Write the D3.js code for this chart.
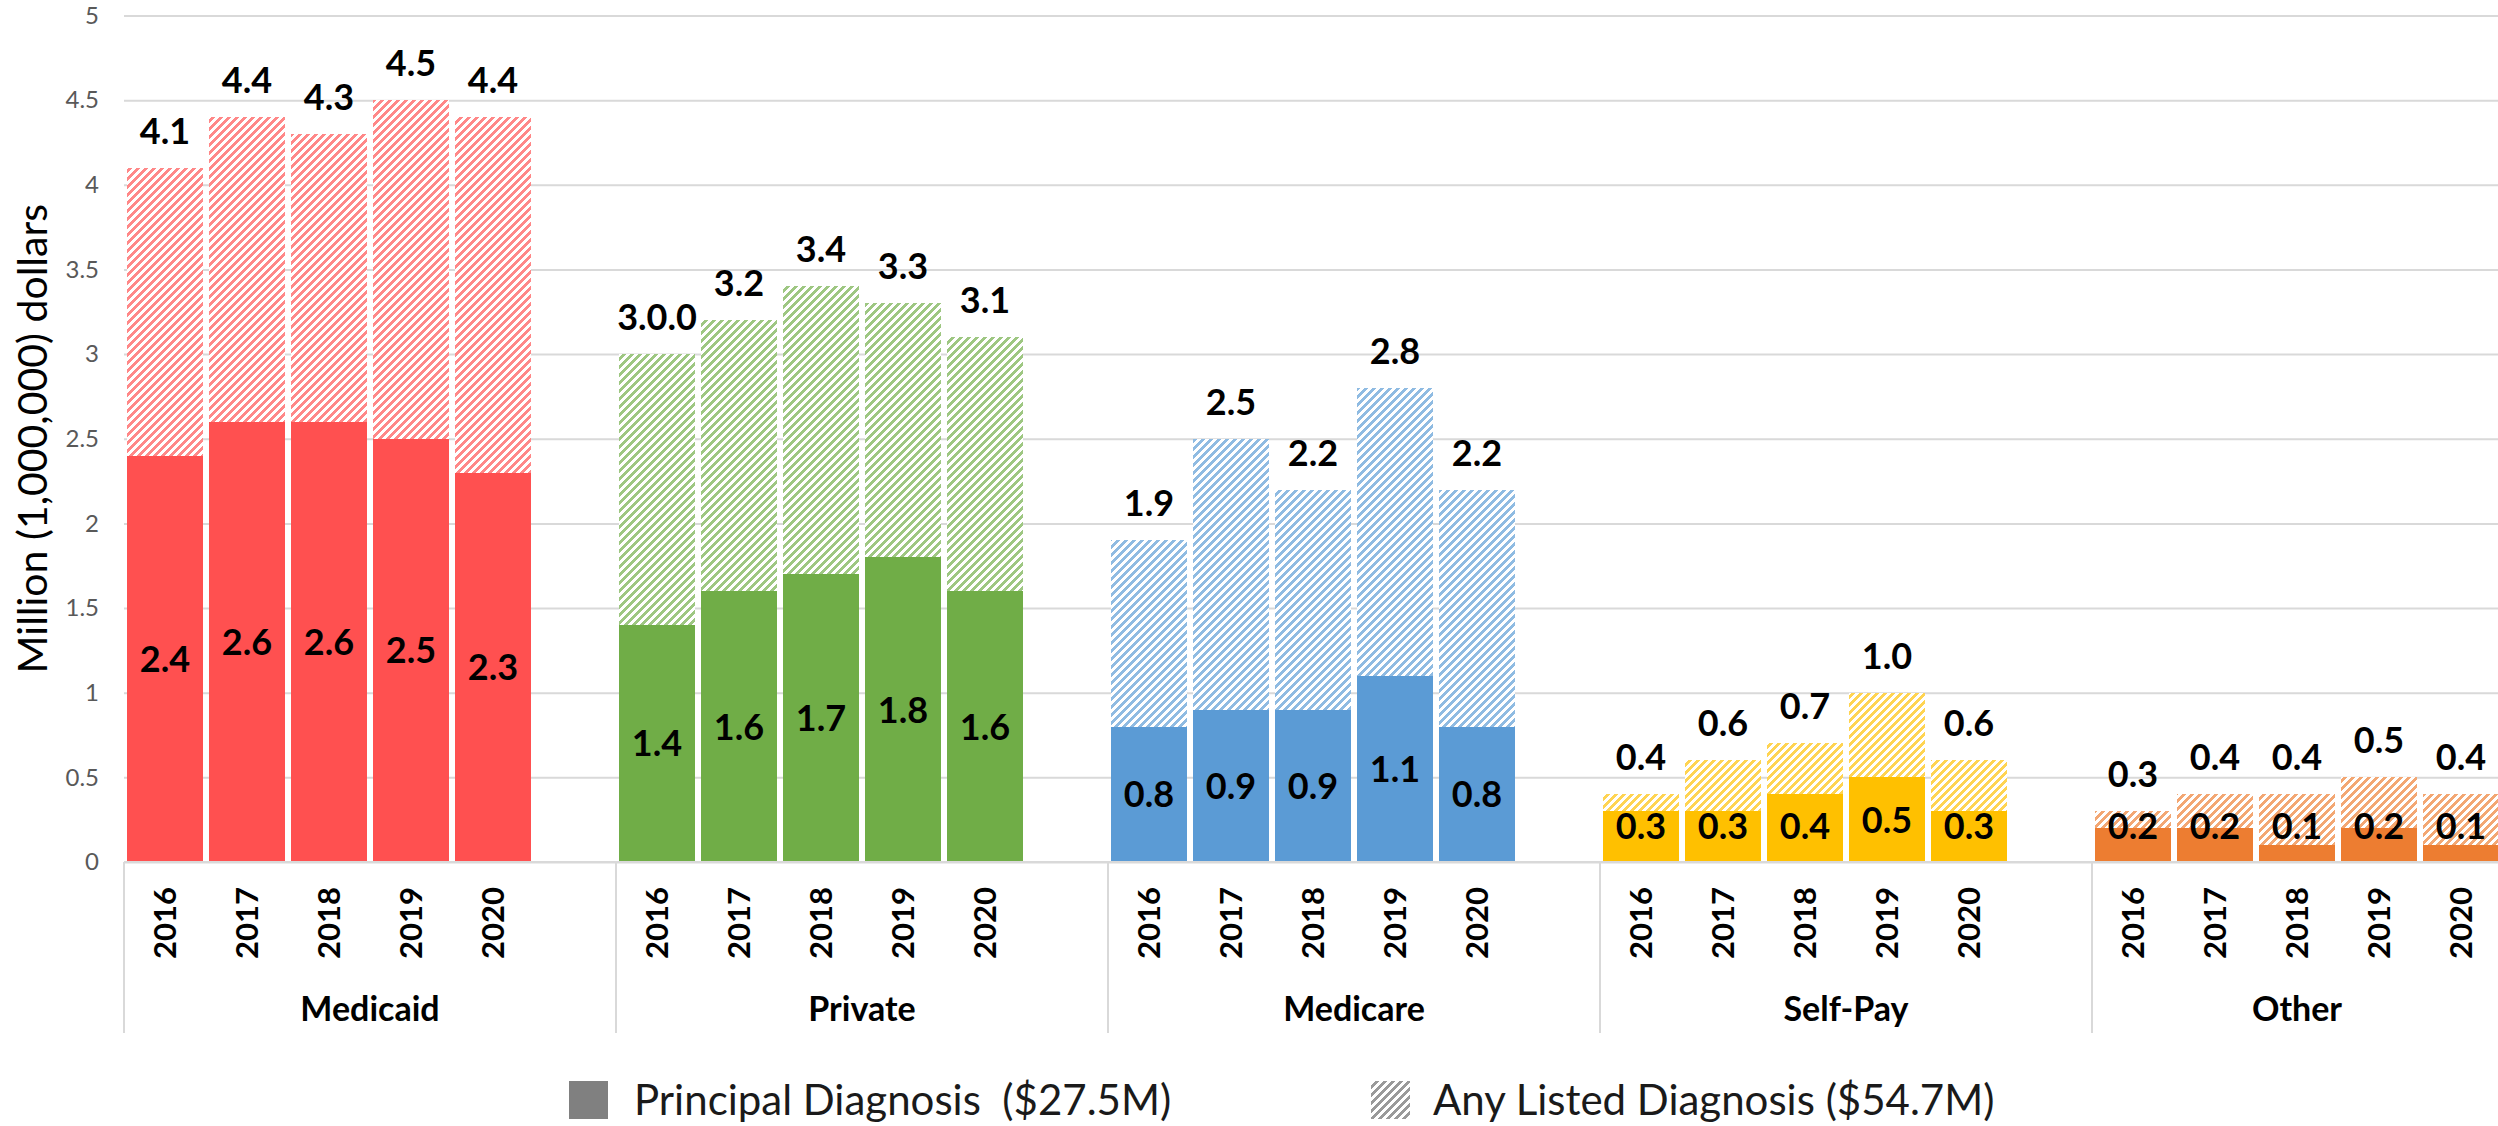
<!DOCTYPE html>
<html>
<head>
<meta charset="utf-8">
<script src="https://cdn.jsdelivr.net/npm/d3@7"></script>
<style>
  html, body { margin: 0; padding: 0; background: #ffffff; }
  svg { display: block; font-family: Lato, "Open Sans", "Noto Sans", sans-serif; }
</style>
</head>
<body>
<svg id="chart" width="2498" height="1126"></svg>
<script>
// Payer groups and years along the two-level category axis
const payers = ["Medicaid", "Private", "Medicare", "Self-Pay", "Other"];
const years = ["2016", "2017", "2018", "2019", "2020"];

// Costs in millions of dollars: principal diagnosis vs any listed diagnosis
const medicaidPrincipal = [2.4, 2.6, 2.6, 2.5, 2.3];
const medicaidAnyListed = [4.1, 4.4, 4.3, 4.5, 4.4];
const privatePrincipal  = [1.4, 1.6, 1.7, 1.8, 1.6];
const privateAnyListed  = [3.0, 3.2, 3.4, 3.3, 3.1];
const medicarePrincipal = [0.8, 0.9, 0.9, 1.1, 0.8];
const medicareAnyListed = [1.9, 2.5, 2.2, 2.8, 2.2];
const selfPayPrincipal  = [0.3, 0.3, 0.4, 0.5, 0.3];
const selfPayAnyListed  = [0.4, 0.6, 0.7, 1.0, 0.6];
const otherPrincipal    = [0.2, 0.2, 0.1, 0.2, 0.1];
const otherAnyListed    = [0.3, 0.4, 0.4, 0.5, 0.4];

// Y axis ticks (millions)
const yTicks = [0, 0.5, 1, 1.5, 2, 2.5, 3, 3.5, 4, 4.5, 5];

// Legend entries
const legendLabels = ["Principal Diagnosis  ($27.5M)", "Any Listed Diagnosis ($54.7M)"];

// Data label text as printed on the source table
const totalLabelText = { "Private 2016": "3.0.0" };

const principalByPayer = [medicaidPrincipal, privatePrincipal, medicarePrincipal, selfPayPrincipal, otherPrincipal];
const anyByPayer = [medicaidAnyListed, privateAnyListed, medicareAnyListed, selfPayAnyListed, otherAnyListed];

const solidColor = {
  "Medicaid": "#FF5050",
  "Private": "#70AD47",
  "Medicare": "#5B9BD5",
  "Self-Pay": "#FFC000",
  "Other": "#ED7D31"
};

// Flattened rows
const rows = [];
payers.forEach((p, i) => {
  years.forEach((yr, j) => {
    rows.push({ payer: p, year: yr, key: p + " " + yr,
                principal: principalByPayer[i][j], total: anyByPayer[i][j] });
  });
});

// Category slots: five years per payer, plus an empty slot between payers
const slots = [];
payers.forEach((p, i) => {
  years.forEach(yr => slots.push(p + " " + yr));
  if (i < payers.length - 1) slots.push(p + " gap");
});

const plotLeft = 124, plotRight = 2502, plotTop = 15.5, plotBottom = 862;

const x = d3.scaleBand()
  .domain(slots)
  .range([plotLeft, plotRight])
  .paddingInner(0.08)
  .paddingOuter(0.04);

const y = d3.scaleLinear().domain([0, 5]).range([plotBottom, plotTop]);

const svg = d3.select("#chart");
const defs = svg.append("defs");

// Pixel-aligned upward diagonal hatch: cell (c, r) is striped when (c + r) mod P < W
function addHatch(id, stripe) {
  const P = 8, W = 4;
  const pat = defs.append("pattern")
    .attr("id", id)
    .attr("patternUnits", "userSpaceOnUse")
    .attr("width", P).attr("height", P);
  pat.append("rect").attr("width", P).attr("height", P).attr("fill", "#ffffff");
  const cells = [];
  for (let r = 0; r < P; r++) {
    for (let c = 0; c < P; c++) {
      if ((c + r) % P < W) cells.push([c, r]);
    }
  }
  pat.selectAll("rect.cell")
    .data(cells)
    .join("rect")
    .attr("class", "cell")
    .attr("x", d => d[0]).attr("y", d => d[1])
    .attr("width", 1).attr("height", 1)
    .attr("fill", stripe)
    .attr("shape-rendering", "crispEdges");
}
const hatchId = p => "hatch-" + p.replace(/[^A-Za-z]/g, "");
payers.forEach(p => {
  addHatch(hatchId(p), d3.interpolateRgb(solidColor[p], "#ffffff")(0.32));
});
addHatch("hatch-legend", "#9A9A9A");

// Gridlines and y tick labels
const yAxis = d3.axisLeft(y)
  .tickValues(yTicks)
  .tickSize(-(plotRight - plotLeft))
  .tickPadding(25)
  .tickFormat(d3.format("~g"));

const gy = svg.append("g")
  .attr("transform", `translate(${plotLeft},0)`)
  .call(yAxis);
gy.select(".domain").remove();
gy.selectAll(".tick line").attr("stroke", "#D9D9D9").attr("stroke-width", 2);
gy.selectAll(".tick text")
  .attr("fill", "#595959")
  .style("font-size", "24px")
  .style("font-family", "Lato, sans-serif");

// Y axis title
svg.append("text")
  .attr("transform", `translate(47,${(plotTop + plotBottom) / 2}) rotate(-90)`)
  .attr("text-anchor", "middle")
  .attr("fill", "#000000")
  .style("font-size", "41px")
  .text("Million (1,000,000) dollars");

// Bars: hatched "any listed" behind, solid "principal" in front
const bars = svg.append("g").attr("shape-rendering", "crispEdges");
bars.selectAll("rect.any")
  .data(rows)
  .join("rect")
  .attr("class", "any")
  .attr("x", d => x(d.key))
  .attr("width", x.bandwidth())
  .attr("y", d => y(d.total))
  .attr("height", d => y(0) - y(d.total))
  .attr("fill", d => `url(#${hatchId(d.payer)})`);

bars.selectAll("rect.principal")
  .data(rows)
  .join("rect")
  .attr("class", "principal")
  .attr("x", d => x(d.key))
  .attr("width", x.bandwidth())
  .attr("y", d => y(d.principal))
  .attr("height", d => y(0) - y(d.principal))
  .attr("fill", d => solidColor[d.payer]);

// Category axis baseline
svg.append("line")
  .attr("x1", plotLeft).attr("x2", plotRight)
  .attr("y1", y(0)).attr("y2", y(0))
  .attr("stroke", "#D9D9D9").attr("stroke-width", 2);

const fmt = d3.format(".1f");
const labelSize = 36;

// Total labels above each bar
svg.append("g").selectAll("text")
  .data(rows)
  .join("text")
  .attr("x", d => x(d.key) + x.bandwidth() / 2)
  .attr("y", d => y(d.total) - 24)
  .attr("text-anchor", "middle")
  .attr("fill", "#000000")
  .style("font-size", labelSize + "px")
  .style("font-weight", 700)
  .text(d => totalLabelText[d.key] || fmt(d.total));

// Principal labels centred in the solid segment, kept inside the plot
svg.append("g").selectAll("text")
  .data(rows)
  .join("text")
  .attr("x", d => x(d.key) + x.bandwidth() / 2)
  .attr("y", d => Math.min((y(d.principal) + y(0)) / 2, y(0) - 36) + labelSize * 0.36)
  .attr("text-anchor", "middle")
  .attr("fill", "#000000")
  .style("font-size", labelSize + "px")
  .style("font-weight", 700)
  .text(d => fmt(d.principal));

// Year labels (rotated)
svg.append("g").selectAll("text")
  .data(rows)
  .join("text")
  .attr("transform", d => `translate(${x(d.key) + x.bandwidth() / 2},887) rotate(-90)`)
  .attr("text-anchor", "end")
  .attr("dy", "0.36em")
  .attr("fill", "#000000")
  .style("font-size", "31px")
  .style("font-weight", 700)
  .text(d => d.year);

// Payer group separators and labels
const half = (x.step() - x.bandwidth()) / 2;
const groupSpan = payers.map((p, i) => {
  const start = x(p + " " + years[0]) - half;
  const lastKey = i < payers.length - 1 ? p + " gap" : p + " " + years[years.length - 1];
  const end = x(lastKey) + x.bandwidth() + half;
  return { payer: p, start, end };
});

svg.append("g").selectAll("line")
  .data(groupSpan)
  .join("line")
  .attr("x1", d => d.start).attr("x2", d => d.start)
  .attr("y1", y(0)).attr("y2", 1033)
  .attr("stroke", "#D9D9D9").attr("stroke-width", 2);

const visibleRight = 2502;
svg.append("g").selectAll("text")
  .data(groupSpan)
  .join("text")
  .attr("x", d => (d.start + Math.min(d.end, visibleRight)) / 2)
  .attr("y", 1021)
  .attr("text-anchor", "middle")
  .attr("fill", "#000000")
  .style("font-size", "34px")
  .style("font-weight", 700)
  .text(d => d.payer);

// Legend
const legend = svg.append("g");
const legendItems = [
  { label: legendLabels[0], fill: "#808080", boxX: 569, textX: 634 },
  { label: legendLabels[1], fill: "url(#hatch-legend)", boxX: 1371, textX: 1433 }
];
legend.selectAll("rect")
  .data(legendItems)
  .join("rect")
  .attr("x", d => d.boxX)
  .attr("y", 1081)
  .attr("width", 39)
  .attr("height", 38)
  .attr("fill", d => d.fill);
legend.selectAll("text")
  .data(legendItems)
  .join("text")
  .attr("x", d => d.textX)
  .attr("y", 1115)
  .attr("fill", "#1a1a1a")
  .style("font-size", "42px")
  .style("white-space", "pre")
  .attr("xml:space", "preserve")
  .text(d => d.label);
</script>
</body>
</html>
